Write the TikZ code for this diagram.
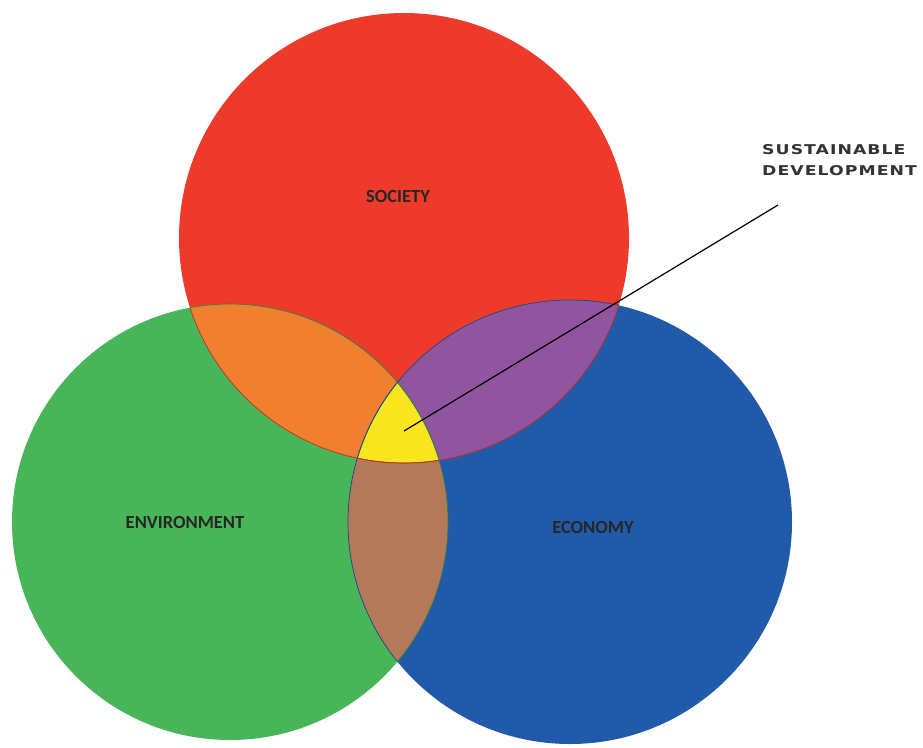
\documentclass[tikz,border=0pt]{standalone}
\usepackage{fontspec}
\usepackage{graphicx}
\setmainfont{Carlito}
\newfontfamily\techfont[LetterSpace=6]{DejaVu Sans Bold}
\definecolor{socred}{RGB}{238,58,42}
\definecolor{envgreen}{RGB}{72,182,88}
\definecolor{ecoblue}{RGB}{33,90,168}
\definecolor{sorange}{RGB}{240,128,48}
\definecolor{spurple}{RGB}{145,85,160}
\definecolor{sbrown}{RGB}{180,120,90}
\definecolor{syellow}{RGB}{250,230,30}
\newcommand{\widetext}[1]{\scalebox{1.28}[1]{#1}}
\tikzset{
  lbl/.style={font=\bfseries\fontsize{18.5}{22}\selectfont, text=black!85, inner sep=0pt},
  sdlbl/.style={font=\techfont\fontsize{13.5}{15}\selectfont, text=black!80, inner sep=0pt, anchor=west},
  rim/.style={line width=0.7pt}
}
\begin{document}
\begin{tikzpicture}[x=1pt,y=-1pt]
\useasboundingbox (0,0) rectangle (923,747);
\def\soc{(404,238) circle[radius=225]}
\def\env{(230,522) circle[radius=218]}
\def\eco{(570,522) circle[radius=222]}
% base circles
\fill[socred] \soc;
\fill[envgreen] \env;
\fill[ecoblue] \eco;
% pairwise overlaps
\begin{scope}\clip \soc; \fill[sorange] \env; \end{scope}
\begin{scope}\clip \soc; \fill[spurple] \eco; \end{scope}
\begin{scope}\clip \env; \fill[sbrown] \eco; \end{scope}
% triple overlap
\begin{scope}\clip \soc; \clip \env; \fill[syellow] \eco; \end{scope}
% rims
\begin{scope}\clip \env; \draw[rim, socred!80!black] \soc; \end{scope}
\begin{scope}\clip \eco; \draw[rim, socred!80!black] \soc; \end{scope}
\begin{scope}\clip \soc; \draw[rim, envgreen!70!black] \env; \end{scope}
\begin{scope}\clip \eco; \draw[rim, envgreen!70!black] \env; \end{scope}
\begin{scope}\clip \soc; \draw[rim, ecoblue!80!black] \eco; \end{scope}
\begin{scope}\clip \env; \draw[rim, ecoblue!80!black] \eco; \end{scope}
% labels
\node[lbl] (society) at (398,196) {SOCIETY};
\node[lbl] (environment) at (185,522) {ENVIRONMENT};
\node[lbl] (economy) at (593,527) {ECONOMY};
\node[sdlbl] (sust) at (762,150) {\widetext{SUSTAINABLE}};
\node[sdlbl] (devel) at (762,171) {\widetext{DEVELOPMENT}};
\coordinate (core) at (404,431);
\coordinate (tip) at (778,205);
\draw[line width=1.2pt, black] (core) -- (tip);
\end{tikzpicture}
\end{document}
